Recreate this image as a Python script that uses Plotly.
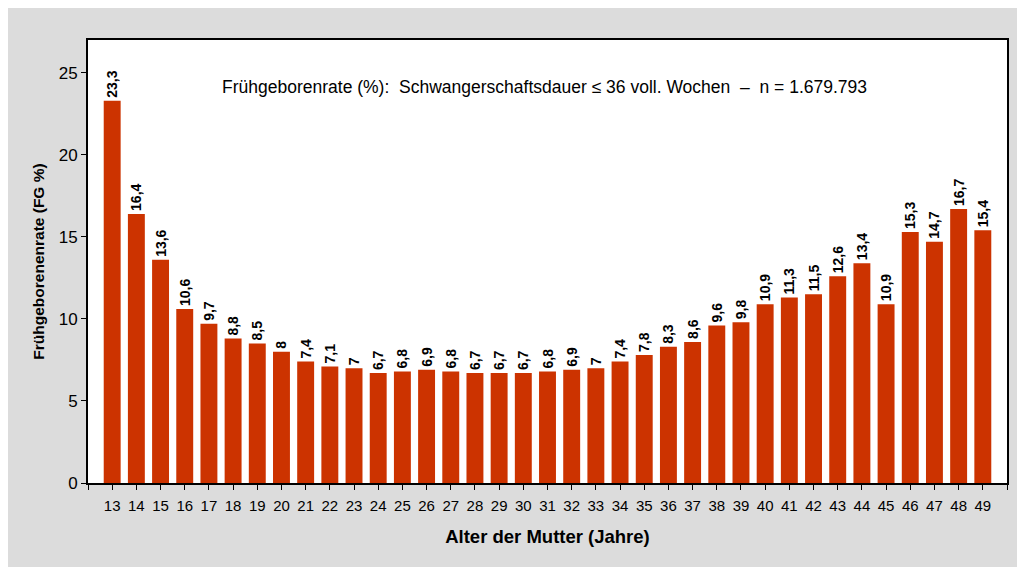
import plotly.graph_objects as go

ages = list(range(13, 50))
rates = [23.3, 16.4, 13.6, 10.6, 9.7, 8.8, 8.5, 8, 7.4, 7.1, 7, 6.7, 6.8, 6.9, 6.8,
         6.7, 6.7, 6.7, 6.8, 6.9, 7, 7.4, 7.8, 8.3, 8.6, 9.6, 9.8, 10.9, 11.3, 11.5,
         12.6, 13.4, 10.9, 15.3, 14.7, 16.7, 15.4]
labels = [f"{v:g}".replace(".", ",") for v in rates]

tick_vals = list(range(12, 51))
tick_text = [str(a) if a in ages else "" for a in tick_vals]
y_ticks = [0, 5, 10, 15, 20, 25]

FONT = "Arial, 'Liberation Sans', sans-serif"
BAR = "#CC3300"
GRAY = "#DCDCDC"
NB = "\u00a0"

fig = go.Figure(go.Bar(
    x=ages, y=rates, width=0.7,
    marker=dict(color=BAR, line=dict(width=0)),
    text=labels, textposition="outside", textangle=-90,
    constraintext="none", cliponaxis=False,
    textfont=dict(family=FONT, size=14, color="black", weight="bold"),
))

fig.update_layout(
    width=1025, height=567,
    margin=dict(l=80, r=26, t=32, b=92),
    paper_bgcolor=GRAY, plot_bgcolor="white",
    showlegend=False,
    font=dict(family=FONT, color="black"),
    xaxis=dict(
        range=[12, 50], tickmode="array", tickvals=tick_vals, ticktext=tick_text,
        ticks="outside", ticklen=5, tickwidth=1, tickcolor="black",
        showline=True, linewidth=2, linecolor="black", mirror=True,
        showgrid=False, zeroline=False, ticklabelstandoff=3,
        tickfont=dict(size=15, family=FONT),
        title=dict(text="Alter der Mutter (Jahre)", standoff=17,
                   font=dict(size=18.5, family=FONT, weight="bold")),
    ),
    yaxis=dict(
        range=[0, 27], tickmode="array", tickvals=y_ticks,
        ticks="outside", ticklen=5, tickwidth=1, tickcolor="black",
        showline=True, linewidth=2, linecolor="black", mirror=True,
        showgrid=False, zeroline=False,
        tickfont=dict(size=17, family=FONT),
        title=dict(text="Frühgeborenenrate (FG %)", standoff=10,
                   font=dict(size=15.5, family=FONT, weight="bold")),
    ),
    annotations=[dict(
        text=f"Frühgeborenrate (%):{NB} Schwangerschaftsdauer ≤ 36 voll. Wochen {NB}–{NB} n = 1.679.793",
        xref="paper", yref="paper", x=0.497, y=0.894, xanchor="center", yanchor="middle",
        showarrow=False, font=dict(size=17.5, family=FONT, color="black"),
    )],
)

fig.write_html("out.html")
